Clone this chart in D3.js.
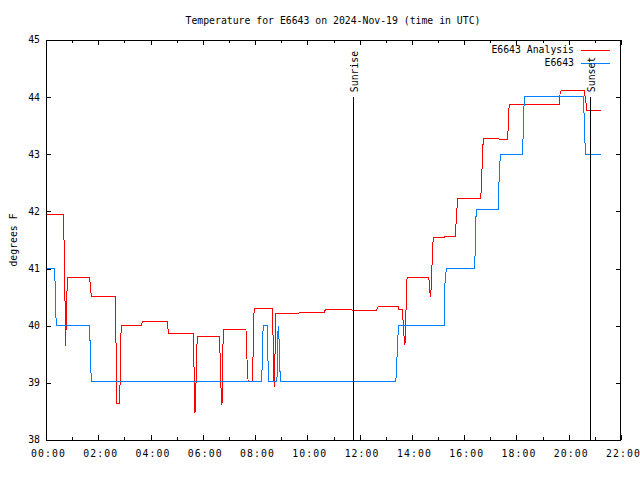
<!DOCTYPE html>
<html>
<head>
<meta charset="utf-8">
<script src="https://cdn.jsdelivr.net/npm/d3@7"></script>
<style>
  html, body { margin: 0; padding: 0; background: #fff; }
  text { font-family: "DejaVu Sans Mono", "Liberation Mono", monospace; font-size: 9.8px; fill: #000; }
</style>
</head>
<body>
<svg id="chart" width="640" height="480"></svg>
<script>
// ---- data ----
const title = "Temperature for E6643 on 2024-Nov-19 (time in UTC)";
const yLabel = "degrees F";
const seriesNames = ["E6643 Analysis", "E6643"];
const seriesColors = ["#ff0000", "#0080ff"];

const analysisTimes = ["00:00","00:19","00:20","00:40","00:42","00:44","00:45","00:46","00:48","00:50",
  "01:40","01:41","01:43","01:44",
  "02:39","02:40","02:42","02:43","02:49","02:50","02:51","02:53",
  "03:39","03:41","04:38","04:40","04:42",
  "05:38","05:39","05:41","05:42","05:43","05:45","05:46","05:48",
  "06:38","06:39","06:41","06:42","06:44","06:45","06:46","06:48",
  "07:39","07:40","07:42","07:44","07:53","07:55","07:56","07:58",
  "08:39","08:41","08:42","08:44","08:45","08:47","08:48",
  "09:41","09:42","10:40","10:41","11:41","11:44","12:38","12:42",
  "13:29","13:30","13:38","13:39","13:40","13:42","13:44","13:46","13:47","13:49",
  "14:38","14:40","14:41","14:43","14:45","14:47","14:49",
  "15:15","15:16","15:40","15:41","15:43","15:45",
  "16:38","16:40","16:42","16:44",
  "17:19","17:20","17:40","17:41","17:42","17:44",
  "19:39","19:40","19:43",
  "20:35","20:37","20:39","20:42","21:15"];
const analysisValues = [41.95,41.95,41.94,41.94,41.3,40.26,39.65,39.95,40.57,40.85,
  40.85,40.77,40.6,40.52,
  40.52,40.05,39.11,38.64,38.64,39.0,39.67,40.0,
  40.0,40.07,40.07,39.95,39.87,
  39.87,39.55,38.86,38.47,38.7,39.14,39.6,39.81,
  39.81,39.62,39.21,38.82,38.61,39.1,39.62,39.94,
  39.94,39.78,39.27,39.03,39.03,39.28,39.97,40.30,
  40.30,39.95,39.25,38.92,39.25,39.95,40.22,
  40.22,40.24,40.24,40.29,40.29,40.26,40.26,40.33,
  40.33,40.29,40.29,40.22,40.02,39.81,39.67,39.95,40.6,40.85,
  40.85,40.77,40.6,40.51,40.77,41.27,41.55,
  41.55,41.57,41.57,41.75,42.0,42.23,
  42.23,42.5,43.0,43.28,
  43.28,43.26,43.26,43.5,43.75,43.88,
  43.88,44.05,44.12,
  44.12,44.05,43.93,43.76,43.76];

const obsTimes = ["00:00","00:19","00:21","00:22","00:24",
  "01:40","01:41","01:43","01:44",
  "08:15","08:16","08:17","08:19","08:28","08:30","08:32",
  "08:50","08:51","08:52","08:53","08:55","08:57","08:58",
  "13:23","13:25","13:27","13:30",
  "15:14","15:15","15:16","15:19",
  "16:24","16:25","16:26","16:28",
  "17:18","17:20","17:23",
  "18:14","18:16","18:18",
  "20:33","20:35","20:37","20:39","21:15"];
const obsValues = [41.0,41.0,40.75,40.25,40.0,
  40.0,39.75,39.25,39.02,
  39.02,39.25,39.75,40.0,40.0,39.25,39.02,
  39.02,39.25,39.75,40.0,39.75,39.25,39.02,
  39.02,39.25,39.75,40.0,
  40.0,40.26,40.75,41.0,
  41.0,41.26,41.75,42.03,
  42.03,42.52,43.0,
  43.0,43.51,44.01,
  44.01,43.75,43.25,43.0,43.0];

const markerNames = ["Sunrise", "Sunset"];
const markerTimes = ["11:45", "20:49"];
const markerRange = [38, 44];

const xDomain = ["00:00", "22:00"];
const yDomain = [38, 45];
const yTicks = [38, 39, 40, 41, 42, 43, 44, 45];

// ---- chart ----
const parse = d3.utcParse("%H:%M");
const fmt = d3.utcFormat("%H:%M");
const svg = d3.select("#chart");
const L = 46, R = 621, T = 40, B = 440;

const x = d3.scaleUtc().domain(xDomain.map(parse)).range([L, R]);
const y = d3.scaleLinear().domain(yDomain).range([B, T]);

// title
svg.append("text").attr("x", 333).attr("y", 23.5).attr("text-anchor", "middle").text(title);

// y label
svg.append("text").attr("transform", "translate(17,240) rotate(-90)")
  .attr("text-anchor", "middle").text(yLabel);

const g = svg.append("g").attr("shape-rendering", "crispEdges");

// ticks
const majorX = d3.utcHour.every(2).range(parse("00:00"), d3.utcMinute.offset(parse("22:00"), 1));
const minorX = d3.utcHour.every(1).range(parse("00:00"), d3.utcMinute.offset(parse("22:00"), 1))
  .filter(d => d.getUTCHours() % 2 === 1);

majorX.forEach(d => {
  const px = Math.round(x(d)) + 0.5;
  g.append("line").attr("x1", px).attr("x2", px).attr("y1", B).attr("y2", B - 5).attr("stroke", "#000");
  g.append("line").attr("x1", px).attr("x2", px).attr("y1", T).attr("y2", T + 5).attr("stroke", "#000");
  svg.append("text").attr("x", x(d) + 2.5).attr("y", 456.5).attr("text-anchor", "middle")
    .attr("letter-spacing", "1.1px").text(fmt(d));
});
minorX.forEach(d => {
  const px = Math.round(x(d)) + 0.5;
  g.append("line").attr("x1", px).attr("x2", px).attr("y1", B).attr("y2", B - 3).attr("stroke", "#000");
  g.append("line").attr("x1", px).attr("x2", px).attr("y1", T).attr("y2", T + 3).attr("stroke", "#000");
});
yTicks.forEach(v => {
  const py = Math.round(y(v)) + 0.5;
  g.append("line").attr("x1", L).attr("x2", L + 5).attr("y1", py).attr("y2", py).attr("stroke", "#000");
  g.append("line").attr("x1", R).attr("x2", R - 5).attr("y1", py).attr("y2", py).attr("stroke", "#000");
  svg.append("text").attr("x", 40).attr("y", y(v)).attr("dy", "0.35em").attr("text-anchor", "end").text(v);
});

// data lines
const line = d3.line().x(d => x(d[0])).y(d => y(d[1]));
const series = [
  analysisTimes.map((t, i) => [parse(t), analysisValues[i]]),
  obsTimes.map((t, i) => [parse(t), obsValues[i]])
];
series.forEach((s, i) => {
  g.append("path").datum(s).attr("d", line).attr("fill", "none")
    .attr("stroke", seriesColors[i]).attr("stroke-width", 1);
});

// sunrise / sunset markers
markerTimes.forEach((t, i) => {
  const px = Math.round(x(parse(t))) + 0.5;
  g.append("line").attr("x1", px).attr("x2", px)
    .attr("y1", y(markerRange[1])).attr("y2", y(markerRange[0])).attr("stroke", "#000");
  svg.append("text").attr("transform", `translate(${px + 4.5},${y(markerRange[1]) - 5}) rotate(-90)`)
    .attr("text-anchor", "start").text(markerNames[i]);
});

// legend
seriesNames.forEach((n, i) => {
  const ly = 50 + i * 12.5;
  svg.append("text").attr("x", 574).attr("y", ly).attr("dy", "0.35em").attr("text-anchor", "end").text(n);
  g.append("line").attr("x1", 581).attr("x2", 610).attr("y1", Math.round(ly) + 0.5).attr("y2", Math.round(ly) + 0.5)
    .attr("stroke", seriesColors[i]);
});

// border
g.append("rect").attr("x", L + 0.5).attr("y", T + 0.5).attr("width", R - L - 1).attr("height", B - T)
  .attr("fill", "none").attr("stroke", "#000");
</script>
</body>
</html>
